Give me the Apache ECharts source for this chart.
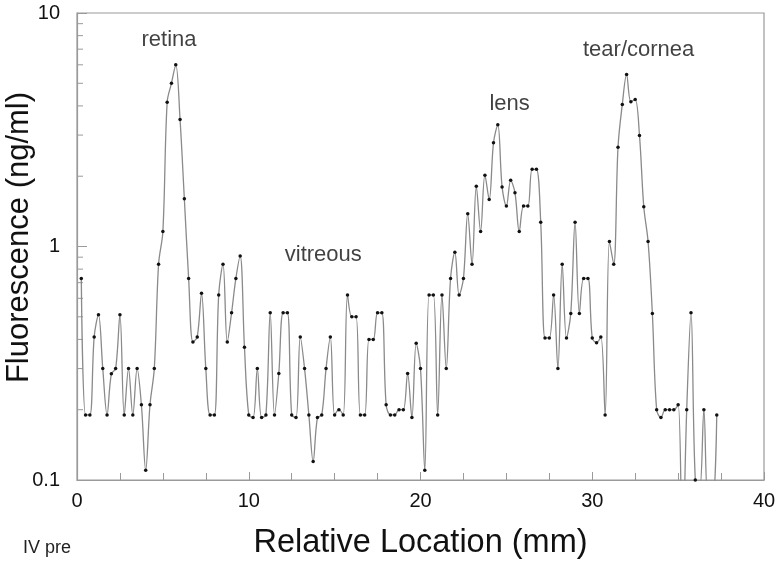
<!DOCTYPE html>
<html>
<head>
<meta charset="utf-8">
<script src="https://cdn.jsdelivr.net/npm/echarts@6/dist/echarts.min.js"></script>
<style>
  html, body { margin: 0; padding: 0; background: #fff; }
  #chart { width: 779px; height: 562px; }
</style>
</head>
<body>
<div id="chart"></div>
<script>
// scan step along the eye axis (mm)
const STEP = 0.25;

// fluorescence readings (ng/ml), one per 0.25 mm starting at 0.25 mm
const fluorescence = [
  0.73, 0.19, 0.19, 0.41, 0.51, 0.30, 0.19, 0.285, 0.30, 0.51,
  0.19, 0.30, 0.19, 0.30, 0.21, 0.11, 0.21, 0.30, 0.84, 1.16,
  4.15, 5.0, 6.0, 3.5, 1.6, 0.73, 0.39, 0.41, 0.63, 0.30,
  0.19, 0.19, 0.62, 0.84, 0.39, 0.52, 0.73, 0.91, 0.37, 0.19,
  0.185, 0.30, 0.185, 0.19, 0.52, 0.19, 0.286, 0.52, 0.52, 0.19,
  0.185, 0.41, 0.30, 0.19, 0.12, 0.185, 0.19, 0.30, 0.41, 0.19,
  0.20, 0.19, 0.62, 0.50, 0.50, 0.19, 0.19, 0.40, 0.40, 0.52,
  0.52, 0.21, 0.19, 0.19, 0.20, 0.20, 0.286, 0.185, 0.385, 0.30,
  0.11, 0.62, 0.62, 0.19, 0.62, 0.30, 0.73, 0.945, 0.62, 0.73,
  1.38, 0.84, 1.81, 1.16, 2.02, 1.59, 2.78, 3.32, 1.80, 1.49,
  1.92, 1.70, 1.16, 1.49, 1.49, 2.14, 2.14, 1.27, 0.406, 0.406,
  0.62, 0.30, 0.84, 0.406, 0.517, 1.27, 0.517, 0.73, 0.73, 0.406,
  0.387, 0.41, 0.19, 1.05, 0.84, 2.66, 4.06, 5.45, 4.17, 4.26,
  2.99, 1.48, 1.05, 0.517, 0.20, 0.185, 0.20, 0.20, 0.20, 0.21,
  0.05, 0.20, 0.52, 0.10, 0.09, 0.20, 0.08, 0.08, 0.19
];

// region labels placed in data coordinates
const regionNames = ['retina', 'vitreous', 'lens', 'tear/cornea'];
const regionX = [5.36, 14.34, 25.19, 32.7];
const regionY = [7.7, 0.924, 4.06, 6.98];

// log minor ticks on the y axis
const yMinorTicks = [0.2, 0.3, 0.4, 0.5, 0.6, 0.7, 0.8, 0.9, 2, 3, 4, 5, 6, 7, 8, 9];

const AXIS_GRAY = '#9a9a9a';
const FONT = 'Liberation Sans, Arial, sans-serif';

const chart = echarts.init(document.getElementById('chart'));

const points = fluorescence.map((v, i) => [(i + 1) * STEP, v]);

const option = {
  animation: false,
  grid: {
    left: 77, right: 15, top: 13, bottom: 82,
    outerBoundsMode: 'none',
    containLabel: false,
    show: true,
    borderColor: AXIS_GRAY,
    borderWidth: 1.2
  },
  xAxis: {
    type: 'value',
    min: 0,
    max: 40,
    interval: 10,
    name: 'Relative Location (mm)',
    nameLocation: 'middle',
    nameGap: 47,
    nameMoveOverlap: false,
    nameTextStyle: { fontSize: 32.5, color: '#111', fontFamily: FONT },
    axisLine: { show: true, lineStyle: { color: AXIS_GRAY, width: 1.2 } },
    axisTick: { show: true, inside: true, length: 8, lineStyle: { color: AXIS_GRAY } },
    minorTick: { show: true, splitNumber: 4, length: 7, lineStyle: { color: AXIS_GRAY } },
    axisLabel: { fontSize: 20, color: '#111', margin: 11, fontFamily: FONT },
    splitLine: { show: false }
  },
  yAxis: {
    type: 'log',
    logBase: 10,
    min: 0.1,
    max: 10,
    splitNumber: 2,
    name: 'Fluorescence (ng/ml)',
    nameLocation: 'middle',
    nameGap: 42,
    nameMoveOverlap: false,
    nameTextStyle: { fontSize: 31, color: '#111', fontFamily: FONT, padding: [0, 0, 0, 18] },
    axisLine: { show: true, lineStyle: { color: AXIS_GRAY, width: 1.2 } },
    axisTick: { show: true, inside: true, length: 10, lineStyle: { color: AXIS_GRAY } },
    axisLabel: {
      fontSize: 20, color: '#111', margin: 17, fontFamily: FONT,
      formatter: v => String(+v.toPrecision(3))
    },
    splitLine: { show: false }
  },
  graphic: [{
    type: 'text',
    left: 23,
    top: 539,
    style: { text: 'IV pre', fontSize: 18, fill: '#222', fontFamily: 'Liberation Sans Narrow, ' + FONT }
  }],
  series: [
    {
      type: 'line',
      data: points,
      smooth: 0.35,
      clip: true,
      symbol: 'circle',
      symbolSize: 3.5,
      itemStyle: { color: '#111' },
      lineStyle: { color: '#8a8a8a', width: 1.3 },
      z: 3
    },
    {
      type: 'custom',
      data: yMinorTicks,
      silent: true,
      renderItem: (params, api) => {
        const p = api.coord([0, api.value(0)]);
        return {
          type: 'line',
          shape: { x1: p[0], y1: p[1], x2: p[0] + 6, y2: p[1] },
          style: { stroke: AXIS_GRAY, lineWidth: 1 }
        };
      },
      encode: { y: 0 },
      z: 2
    },
    {
      type: 'scatter',
      data: regionNames.map((n, i) => ({ name: n, value: [regionX[i], regionY[i]] })),
      symbolSize: 1,
      itemStyle: { color: 'rgba(0,0,0,0)' },
      silent: true,
      label: {
        show: true,
        position: 'inside',
        formatter: p => p.name,
        fontSize: 22,
        color: '#111',
        fontFamily: FONT
      }
    }
  ]
};

chart.setOption(option);
</script>
</body>
</html>
